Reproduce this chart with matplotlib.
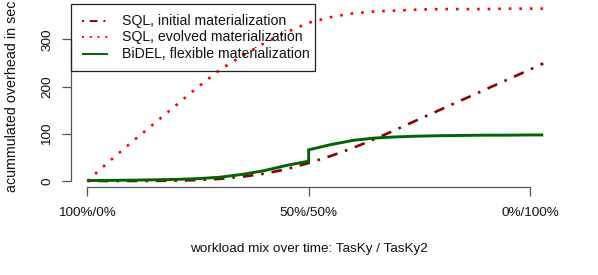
import matplotlib
matplotlib.use('Agg')
import matplotlib.pyplot as plt
from matplotlib.lines import Line2D
from matplotlib.patches import Rectangle

plt.rcParams['font.family'] = ['Liberation Sans', 'DejaVu Sans']

# ---- data (x = % of elapsed workload time) ----
x = [0, 5, 10, 15, 20, 25, 30, 35, 40, 45, 50, 55, 60, 65, 70, 75, 80, 85, 90, 95, 100, 103]
sql_initial = [0, 0, 0, 0.3, 0.6, 2, 4.5, 9, 15.5, 25, 38, 53, 70, 89, 110, 131, 152, 173, 194, 215, 236, 249]
sql_evolved = [0, 42, 82, 121, 160, 199, 236, 265, 292, 315, 335, 347, 355, 359, 361, 363, 364, 364, 364, 365, 365, 365]
x_bidel = [0, 5, 10, 15, 20, 25, 30, 35, 40, 45, 50, 50, 55, 60, 65, 70, 75, 80, 85, 90, 95, 100, 103]
bidel = [1, 1.3, 1.8, 2.5, 3.4, 5, 8, 14, 22, 33, 42, 66, 77, 86, 91, 93.5, 95, 96, 96.5, 97, 97, 97.5, 97.5]

series_labels = ["SQL, initial materialization",
                 "SQL, evolved materialization",
                 "BiDEL, flexible materialization"]
xtick_pos = [0, 50, 100]
xtick_labels = ["100%/0%", "50%/50%", "0%/100%"]
ytick_pos = [0, 100, 200, 300]
xlabel = "workload mix over time: TasKy / TasKy2"
ylabel = "acummulated overhead in sec"

# ---- styles ----
C_INIT = '#8B0000'
C_EVOL = '#FF0000'
C_BIDEL = '#006400'
LS_INIT = (0, (1, 3, 4, 3))
LS_EVOL = (0, (1, 3))
AXC = '#555555'

W, H = 598, 275
fig = plt.figure(figsize=(W / 100, H / 100), dpi=100)


def fx(px):
    return px / W


def fy(py):
    return 1 - py / H


L, R, T, B = 70.5, 561.5, 2.0, 187.3
ax = fig.add_axes([L / W, 1 - B / H, (R - L) / W, (B - T) / H])
x0px, x100px = 87.3, 530.0
y0px, y300px = 181.0, 39.3
sx = (x100px - x0px) / 100
sy = (y0px - y300px) / 300
ax.set_xlim((L - x0px) / sx, (R - x0px) / sx)
ax.set_ylim((y0px - B) / sy, (y0px - T) / sy)

LW = 1.9
ax.plot(x, sql_initial, color=C_INIT, lw=LW, linestyle=LS_INIT, dash_capstyle='butt')
ax.plot(x, sql_evolved, color=C_EVOL, lw=LW, linestyle=LS_EVOL, dash_capstyle='butt')
ax.plot(x_bidel, bidel, color=C_BIDEL, lw=2.1, solid_capstyle='butt', solid_joinstyle='miter')

for s in ['top', 'right']:
    ax.spines[s].set_visible(False)
ax.spines['left'].set_bounds(0, 300)
ax.spines['bottom'].set_bounds(0, 100)
for s in ['left', 'bottom']:
    ax.spines[s].set_color(AXC)
    ax.spines[s].set_linewidth(0.9)

ax.set_xticks(xtick_pos)
ax.set_xticklabels(xtick_labels)
ax.set_yticks(ytick_pos)
ax.set_yticklabels([str(v) for v in ytick_pos])
ax.tick_params(direction='out', length=6.3, width=0.9, color=AXC, labelsize=9.7, labelcolor='#111111')
ax.tick_params(axis='x', pad=8.0)
ax.tick_params(axis='y', pad=6.0)
for lab in ax.get_yticklabels():
    lab.set_rotation(90)
    lab.set_va('center')
    lab.set_ha('right')

# axis titles
fig.text(fx(308.8), fy(248.8), xlabel, ha='center', va='center', fontsize=9.7, color='#111111')
fig.text(fx(11.7), fy(192.0), ylabel, rotation=90, ha='center', va='bottom', fontsize=10.3, color='#111111')

# legend (R style, transparent box)
fig.add_artist(Rectangle((fx(70.5), fy(71)), fx(315) - fx(70.5), fy(4) - fy(71),
                         transform=fig.transFigure, fill=False, edgecolor='#222222', lw=0.9))
leg_styles = [(C_INIT, LS_INIT), (C_EVOL, LS_EVOL), (C_BIDEL, '-')]
leg_y = [20.7, 37.2, 54.0]
for (c, ls), yc, lab in zip(leg_styles, leg_y, series_labels):
    fig.add_artist(Line2D([fx(81.7), fx(108.3)], [fy(yc), fy(yc)], transform=fig.transFigure,
                          color=c, lw=1.4, linestyle=ls, dash_capstyle='butt', solid_capstyle='butt'))
    fig.text(fx(121.7), fy(yc), lab, ha='left', va='center', fontsize=10.2, color='#111111')

fig.savefig('out.png', dpi=100)
